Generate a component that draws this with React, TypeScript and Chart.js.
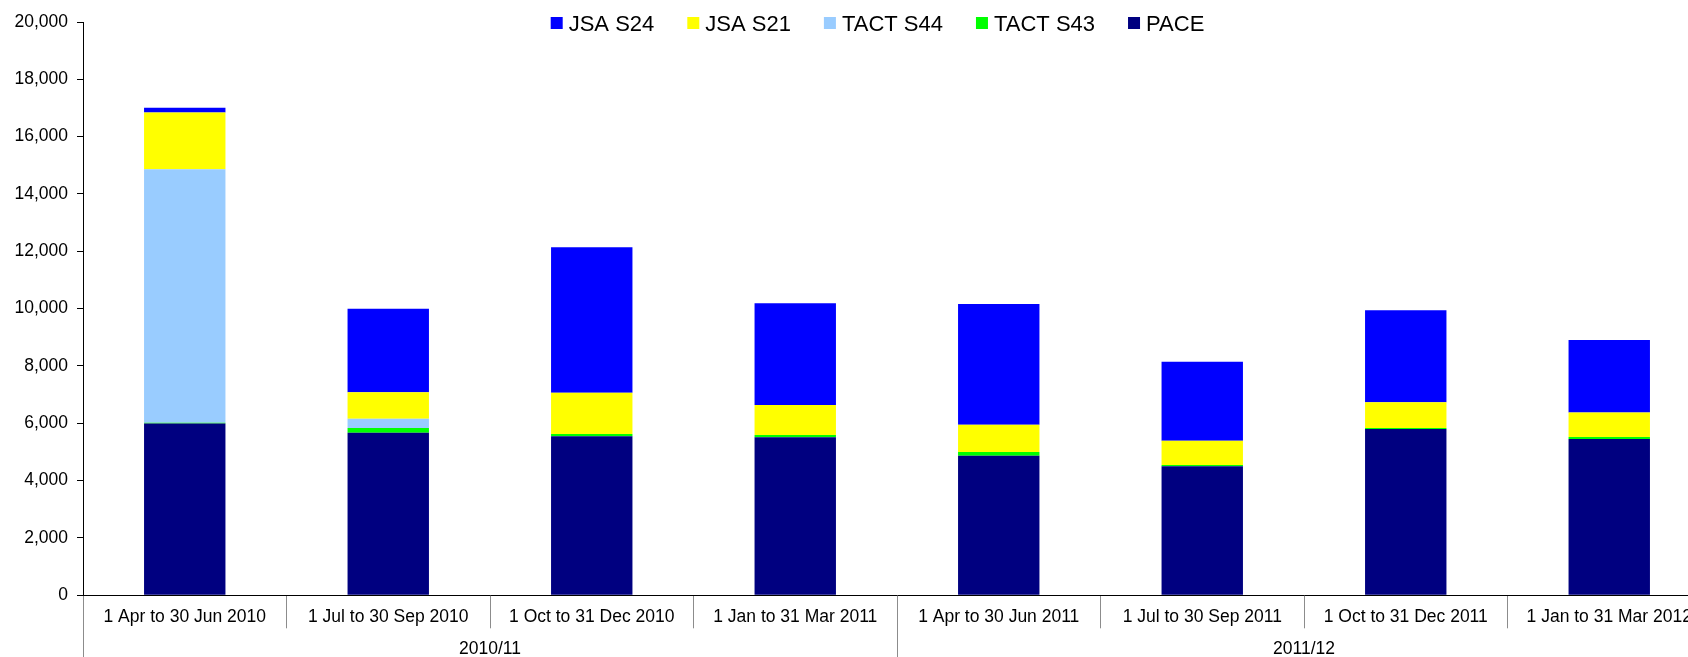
import React, { useEffect, useRef } from "react";
import { Chart, registerables } from "chart.js";

Chart.register(...registerables);

const categories = [
  "1 Apr to 30 Jun 2010",
  "1 Jul to 30 Sep 2010",
  "1 Oct to 31 Dec 2010",
  "1 Jan to 31 Mar 2011",
  "1 Apr to 30 Jun 2011",
  "1 Jul to 30 Sep 2011",
  "1 Oct to 31 Dec 2011",
  "1 Jan to 31 Mar 2012",
];
const groupLabels = ["2010/11", "2011/12"];

const pace = [5990, 5670, 5550, 5510, 4870, 4500, 5800, 5450];
const tactS43 = [30, 165, 80, 80, 130, 45, 35, 70];
const tactS44 = [8840, 325, 0, 0, 0, 0, 0, 0];
const jsaS21 = [1980, 920, 1440, 1050, 950, 850, 900, 860];
const jsaS24 = [170, 2920, 5070, 3550, 4210, 2755, 3210, 2525];

const yTicks = [0, 2000, 4000, 6000, 8000, 10000, 12000, 14000, 16000, 18000, 20000];

const FONT = "'Liberation Sans', Arial, sans-serif";

const topLegend = {
  id: "topLegend",
  afterDraw(chart: any) {
    const ctx = chart.ctx;
    ctx.save();
    ctx.font = `22px ${FONT}`;
    const items = chart.data.datasets
      .map((d: any) => ({ label: d.label, color: d.backgroundColor }))
      .reverse();
    const box = 12;
    const gap = 6;
    const itemGap = 33;
    const widths = items.map((it: any) => box + gap + ctx.measureText(it.label).width);
    const total = widths.reduce((a: number, b: number) => a + b, 0) + itemGap * (items.length - 1);
    let x = 877.5 - total / 2;
    items.forEach((it: any, i: number) => {
      ctx.fillStyle = it.color;
      ctx.fillRect(x, 17, box, box);
      ctx.fillStyle = "#000";
      ctx.textBaseline = "alphabetic";
      ctx.textAlign = "left";
      ctx.fillText(it.label, x + box + gap, 30.7);
      x += widths[i] + itemGap;
    });
    ctx.restore();
  },
};

export default function App() {
  const ref = useRef<HTMLCanvasElement | null>(null);

  useEffect(() => {
    if (!ref.current) return;
    const chart = new Chart(ref.current, {
      type: "bar",
      data: {
        labels: categories,
        datasets: [
          { label: "PACE", data: pace, backgroundColor: "#000080" },
          { label: "TACT S43", data: tactS43, backgroundColor: "#00FF00" },
          { label: "TACT S44", data: tactS44, backgroundColor: "#99CCFF" },
          { label: "JSA S21", data: jsaS21, backgroundColor: "#FFFF00" },
          { label: "JSA S24", data: jsaS24, backgroundColor: "#0000FF" },
        ],
      },
      options: {
        responsive: false,
        animation: false,
        devicePixelRatio: 1,
        layout: { padding: { top: 22, left: 0, right: 1, bottom: 0 } },
        datasets: {
          bar: { categoryPercentage: 1, barPercentage: 0.4, borderWidth: 0 },
        },
        plugins: {
          legend: { display: false },
          tooltip: { enabled: false },
        },
        scales: {
          x: {
            stacked: true,
            offset: true,
            grid: {
              offset: true,
              drawOnChartArea: false,
              drawTicks: true,
              tickLength: 33,
              color: "#8c8c8c",
              lineWidth: 1,
            },
            border: { display: true, color: "#000", width: 1 },
            ticks: {
              font: { family: FONT, size: 17.5 },
              color: "#000",
              padding: -22,
              maxRotation: 0,
              autoSkip: false,
            },
            afterFit: (s: any) => {
              s.height = 33;
            },
          },
          x2: {
            type: "category",
            labels: groupLabels,
            position: "bottom",
            offset: true,
            grid: {
              offset: true,
              drawOnChartArea: false,
              drawTicks: true,
              tickLength: 29,
              color: "#8c8c8c",
              lineWidth: 1,
            },
            border: { display: false },
            ticks: {
              font: { family: FONT, size: 17.5 },
              color: "#000",
              padding: -19,
              maxRotation: 0,
              autoSkip: false,
            },
            afterFit: (s: any) => {
              s.height = 28.7;
            },
          },
          y: {
            stacked: true,
            min: 0,
            max: 20000,
            afterBuildTicks: (s: any) => {
              s.ticks = yTicks.map((v) => ({ value: v }));
            },
            ticks: {
              font: { family: FONT, size: 17.5 },
              color: "#000",
              padding: 9,
              callback: (v: any) => Number(v).toLocaleString("en-US"),
            },
            grid: { drawOnChartArea: false, tickLength: 6, color: "#000", lineWidth: 1 },
            border: { display: true, color: "#000", width: 1 },
            afterFit: (s: any) => {
              s.width = 83;
            },
          },
        },
      } as any,
      plugins: [topLegend],
    });
    return () => chart.destroy();
  }, []);

  return (
    <div
      style={{
        position: "fixed",
        left: 0,
        top: 0,
        width: 1688,
        height: 657,
        overflow: "hidden",
        background: "#fff",
      }}
    >
      <canvas ref={ref} width={1712} height={657} style={{ width: 1712, height: 657, display: "block" }} />
    </div>
  );
}
